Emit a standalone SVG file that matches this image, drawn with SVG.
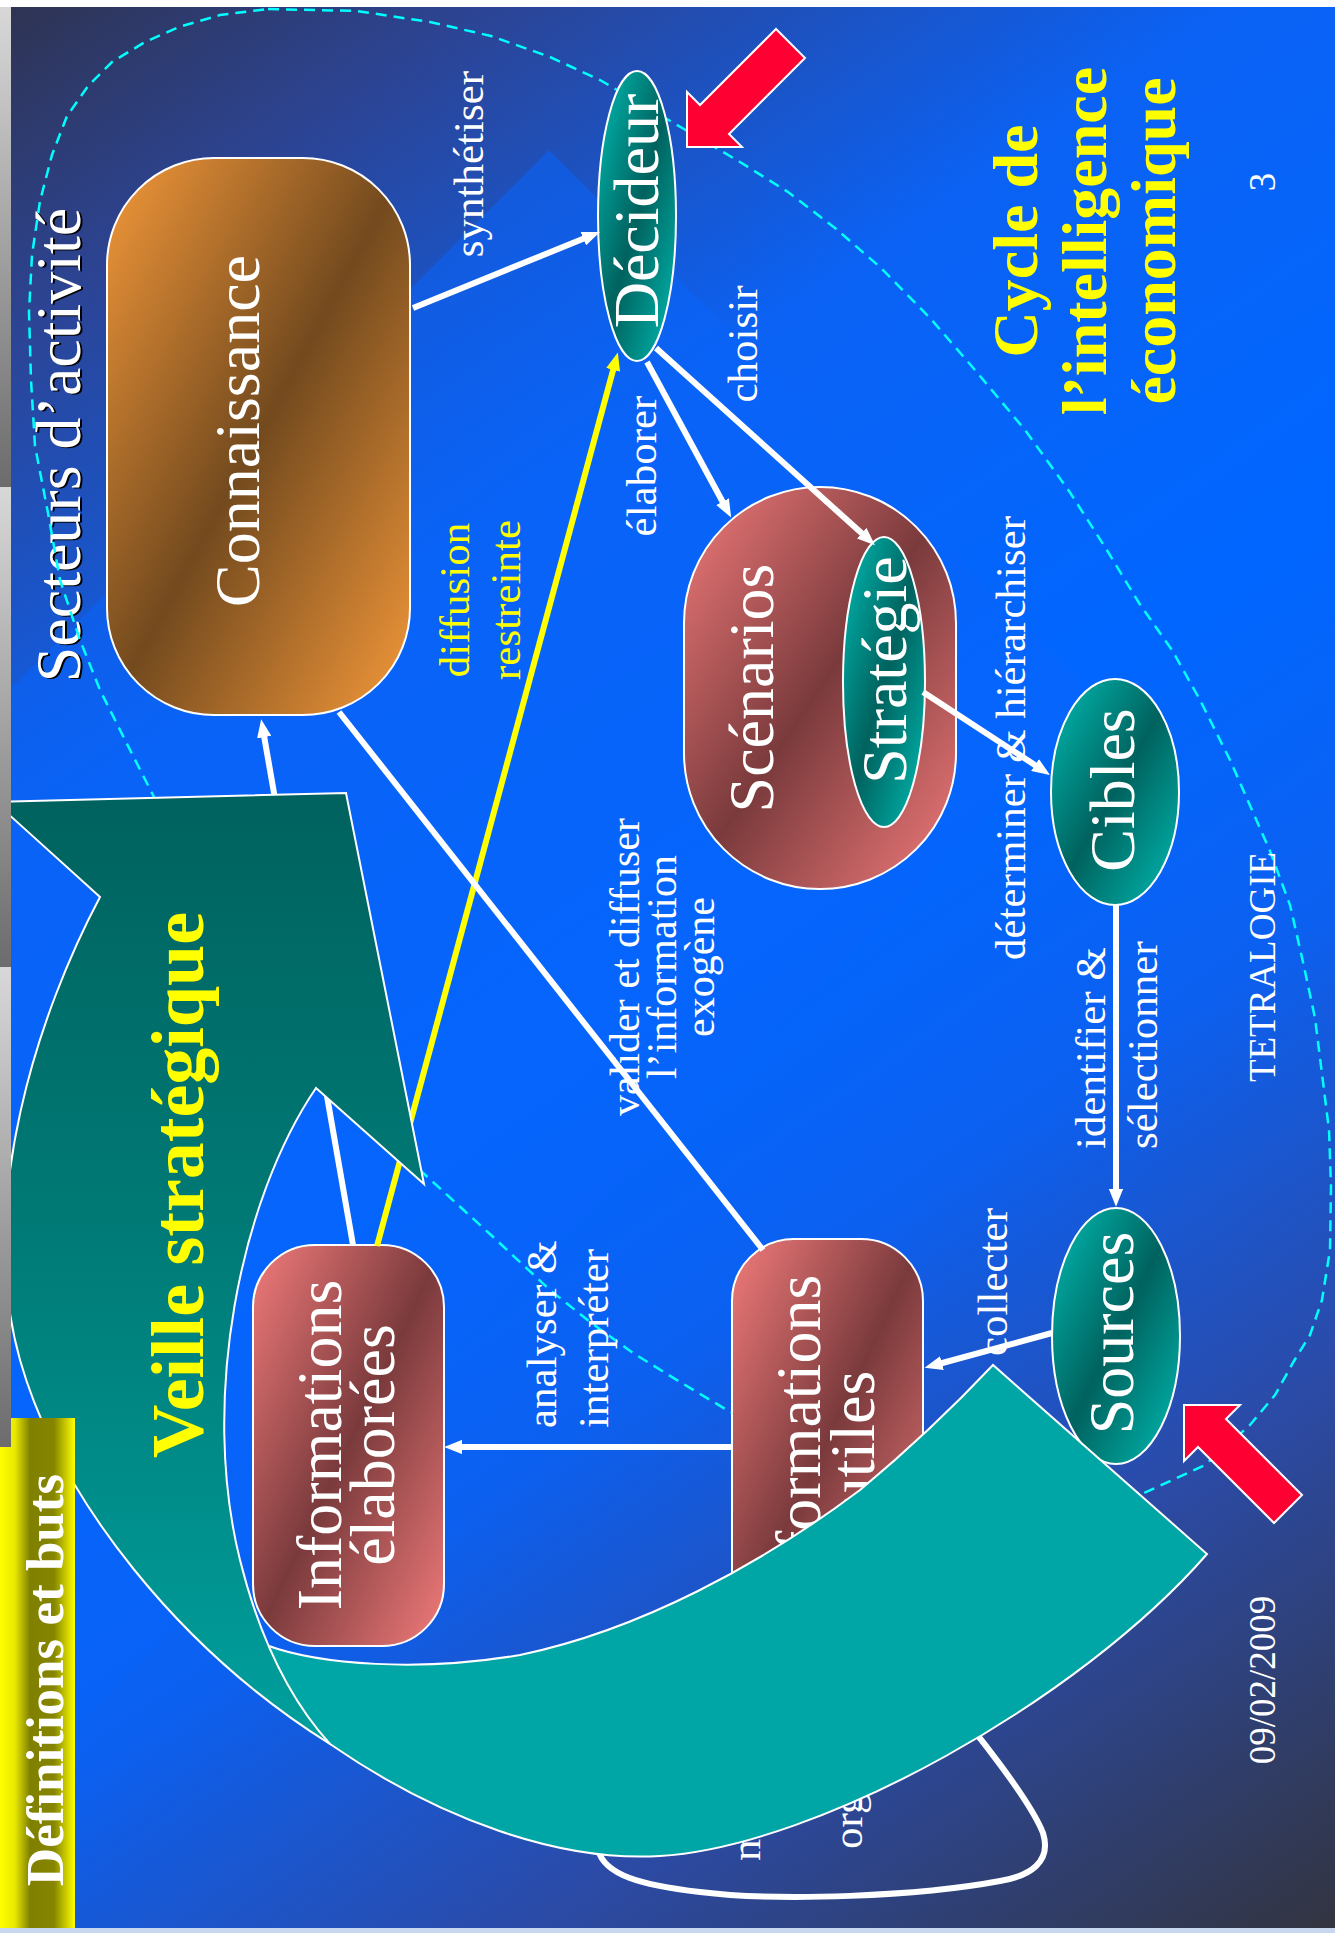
<svg xmlns="http://www.w3.org/2000/svg" width="1335" height="1933" viewBox="0 0 1335 1933">
<style>
.t{font-family:"Liberation Serif","Times New Roman",serif;fill:#fff}
.n{font-size:64px;text-anchor:middle}
.l{font-size:43px}
.m{text-anchor:middle}
.b{font-weight:bold}
.y{fill:#FFFF00}
.w{stroke:#fff;stroke-width:6;fill:none}
.so{stroke:#fff;stroke-width:2}
</style>
<defs>
<linearGradient id="bg" gradientUnits="userSpaceOnUse" x1="0" y1="0" x2="1335" y2="1933">
<stop offset="0" stop-color="#2F3350"/>
<stop offset="0.12" stop-color="#2C4494"/>
<stop offset="0.3" stop-color="#0B62F4"/>
<stop offset="0.5" stop-color="#0066FF"/>
<stop offset="0.64" stop-color="#0C60F0"/>
<stop offset="0.8" stop-color="#2B4BA8"/>
<stop offset="1" stop-color="#33343F"/>
</linearGradient>
<linearGradient id="gOr" x1="0" y1="0" x2="1" y2="1">
<stop offset="0" stop-color="#F5993A"/><stop offset="0.5" stop-color="#734A1E"/><stop offset="1" stop-color="#F5993A"/>
</linearGradient>
<linearGradient id="gPk" x1="0" y1="0" x2="1" y2="1">
<stop offset="0" stop-color="#F27B7B"/><stop offset="0.5" stop-color="#7A3A3C"/><stop offset="1" stop-color="#F27B7B"/>
</linearGradient>
<linearGradient id="gTl" x1="0" y1="0" x2="1" y2="1">
<stop offset="0" stop-color="#00BDB5"/><stop offset="0.5" stop-color="#00625E"/><stop offset="1" stop-color="#00BDB5"/>
</linearGradient>
<linearGradient id="gDk" gradientUnits="userSpaceOnUse" x1="0" y1="800" x2="0" y2="1750">
<stop offset="0" stop-color="#00625E"/><stop offset="0.45" stop-color="#007A76"/><stop offset="1" stop-color="#00A09E"/>
</linearGradient>
<linearGradient id="gYl" gradientUnits="userSpaceOnUse" x1="0" y1="0" x2="75" y2="0">
<stop offset="0" stop-color="#FFFF00"/><stop offset="0.2" stop-color="#E8E800"/><stop offset="0.4" stop-color="#808000"/><stop offset="0.72" stop-color="#858500"/><stop offset="1" stop-color="#FFFF00"/>
</linearGradient>
<linearGradient id="gGr" x1="0" y1="0" x2="0" y2="1">
<stop offset="0" stop-color="#D8D8D8"/><stop offset="1" stop-color="#6C6C6C"/>
</linearGradient>
<pattern id="pGr" patternUnits="userSpaceOnUse" x="0" y="7" width="11" height="480">
<rect width="11" height="480" fill="url(#gGr)"/>
</pattern>
<marker id="ah" viewBox="0 0 10 8" refX="4" refY="4" markerWidth="3" markerHeight="2.4" orient="auto" markerUnits="strokeWidth">
<path d="M0,0 L10,4 L0,8 z" fill="#fff"/>
</marker>
<marker id="ahY" viewBox="0 0 10 8" refX="4" refY="4" markerWidth="3" markerHeight="2.4" orient="auto" markerUnits="strokeWidth">
<path d="M0,0 L10,4 L0,8 z" fill="#FFFF00"/>
</marker>
<clipPath id="slide"><rect x="11" y="7" width="1324" height="1921"/></clipPath>
</defs>

<rect x="0" y="0" width="1335" height="1933" fill="url(#bg)"/>
<polygon points="12,687 549,150 1100,701 12,1789" fill="#0A64FA" opacity="0.55"/>

<g id="title-secteurs">
<text class="t" font-size="64" text-anchor="middle" transform="translate(82,446) rotate(-90)" style="fill:#000">Secteurs d’activité</text>
<text class="t" font-size="64" text-anchor="middle" transform="translate(80,445) rotate(-90)">Secteurs d’activité</text>
</g>

<polyline id="tetralogie-outline" fill="none" stroke="#00FFFF" stroke-width="2.5" stroke-dasharray="11 7" points="268,9 357,11 430,22 491,36 550,57 600,80 684,129 740,162 788,192 835,228 881,268 930,318 975,370 1025,430 1069,491 1105,547 1139,603 1172,650 1200,700 1230,760 1270,851 1290,905 1303,962 1315,1018 1322,1074 1329,1130 1331,1186 1330,1250 1322,1300 1310,1335 1294,1361 1275,1395 1250,1425 1205,1465 1142,1494 1060,1505 970,1500 880,1480 800,1450 727,1410 680,1382 633,1353 590,1322 550,1290 491,1235 422,1172 360,1110 300,1045 240,970 190,880 154,797 125,740 100,690 80,640 60,580 48,513 35,446 31,380 29,312 32,255 40,201 52,155 67,116 88,86 112,62 145,42 179,27 220,15 268,9"/>

<g id="nodes">
<g id="connaissance">
<rect x="107" y="158" width="303" height="557" rx="107" ry="107" fill="url(#gOr)" class="so"/>
<text class="t n" transform="translate(259,431) rotate(-90)">Connaissance</text>
</g>
<g id="decideur">
<ellipse cx="637" cy="216" rx="39" ry="145" fill="url(#gTl)" class="so"/>
<text class="t n" transform="translate(658,211) rotate(-90)">Décideur</text>
</g>
<g id="scenarios">
<rect x="684" y="487" width="272" height="402" rx="136" ry="136" fill="url(#gPk)" class="so"/>
<text class="t n" transform="translate(773,688) rotate(-90)">Scénarios</text>
</g>
<g id="strategie">
<ellipse cx="884" cy="682" rx="41" ry="145" fill="url(#gTl)" class="so"/>
<text class="t n" transform="translate(906,670) rotate(-90)">Stratégie</text>
</g>
<g id="cibles">
<ellipse cx="1115" cy="792" rx="64" ry="113" fill="url(#gTl)" class="so"/>
<text class="t n" transform="translate(1134,790) rotate(-90)">Cibles</text>
</g>
<g id="sources">
<ellipse cx="1116" cy="1336" rx="64" ry="128" fill="url(#gTl)" class="so"/>
<text class="t n" transform="translate(1133,1333) rotate(-90)">Sources</text>
</g>
<g id="info-elaborees">
<rect x="253" y="1245" width="191" height="401" rx="62" ry="62" fill="url(#gPk)" class="so"/>
<text class="t n" transform="translate(341,1445) rotate(-90)">Informations</text>
<text class="t n" transform="translate(394,1445) rotate(-90)">élaborées</text>
</g>
<g id="info-utiles">
<rect x="732" y="1239" width="191" height="401" rx="62" ry="62" fill="url(#gPk)" class="so"/>
<text class="t n" transform="translate(820,1440) rotate(-90)">Informations</text>
<text class="t n" transform="translate(874,1440) rotate(-90)">utiles</text>
</g>
</g>

<g id="connectors">
<line class="w" x1="413" y1="308" x2="590" y2="236" marker-end="url(#ah)"/>
<line class="w" x1="647" y1="362" x2="726" y2="508" marker-end="url(#ah)"/>
<line class="w" x1="656" y1="348" x2="867" y2="538" marker-end="url(#ah)"/>
<line class="w" x1="923" y1="692" x2="1041" y2="769" marker-end="url(#ah)"/>
<line class="w" x1="1116" y1="905" x2="1116" y2="1196" marker-end="url(#ah)"/>
<line class="w" x1="1052" y1="1333" x2="935" y2="1365" marker-end="url(#ah)"/>
<line class="w" x1="732" y1="1447" x2="455" y2="1447" marker-end="url(#ah)"/>
<line class="w" x1="353" y1="1245" x2="263" y2="730" marker-end="url(#ah)"/>
<line x1="377" y1="1246" x2="615" y2="363" stroke="#FFFF00" stroke-width="6" marker-end="url(#ahY)"/>
<line class="w" x1="763" y1="1250" x2="339" y2="712"/>
<path class="w" stroke-width="7" d="M940,1690 C975,1730 1030,1800 1043,1833 C1052,1862 1030,1876 1000,1881 C920,1896 780,1902 700,1892 C640,1885 605,1875 598,1850 L592,1820"/>
</g>

<g id="labels">
<text class="t l m" transform="translate(483,164) rotate(-90)">synthétiser</text>
<text class="t l m y" transform="translate(469,600) rotate(-90)">diffusion</text>
<text class="t l m y" transform="translate(520,600) rotate(-90)">restreinte</text>
<text class="t l m" transform="translate(656,466) rotate(-90)">élaborer</text>
<text class="t l m" transform="translate(757,344) rotate(-90)">choisir</text>
<text class="t l m" transform="translate(1025,738) rotate(-90)">déterminer &amp; hiérarchiser</text>
<text class="t l" transform="translate(1105,1149) rotate(-90)">identifier &amp;</text>
<text class="t l" transform="translate(1157,1149) rotate(-90)">sélectionner</text>
<text class="t m" font-size="42" transform="translate(639,967) rotate(-90)">valider et diffuser</text>
<text class="t m" font-size="42" transform="translate(676,967) rotate(-90)">l’information</text>
<text class="t m" font-size="42" transform="translate(714,967) rotate(-90)">exogène</text>
<text class="t l" transform="translate(556,1428) rotate(-90)">analyser &amp;</text>
<text class="t l" transform="translate(608,1428) rotate(-90)">interpréter</text>
<text class="t l" transform="translate(1007,1356) rotate(-90)">collecter</text>
<text class="t l" transform="translate(760,1861) rotate(-90)">mémoriser</text>
<text class="t l" transform="translate(862,1849) rotate(-90)">organiser</text>
<text class="t m" font-size="37" transform="translate(1275,967) rotate(-90)">TETRALOGIE</text>
<text class="t m" font-size="37" transform="translate(1275,182) rotate(-90)">3</text>
<text class="t m" font-size="37" transform="translate(1275,1680) rotate(-90)">09/02/2009</text>
<text class="t m b y" font-size="64" transform="translate(1037,241) rotate(-90)">Cycle de</text>
<text class="t m b y" font-size="64" transform="translate(1106,241) rotate(-90)">l’intelligence</text>
<text class="t m b y" font-size="64" transform="translate(1175,241) rotate(-90)">économique</text>
</g>

<g id="veille-arrow" clip-path="url(#slide)">
<path d="M266,1645 C320,1665 420,1672 520,1655 C640,1630 760,1565 860,1490 C920,1440 960,1400 993,1365 L1207,1554 C1080,1700 820,1846 660,1856 C560,1862 440,1820 330,1744 L250,1683 Z" fill="#00A6A6" class="so"/>
<path d="M-5,802 L346,793 L424,1184 L316,1088 C240,1200 200,1400 240,1560 C260,1640 290,1700 330,1744 C180,1650 60,1500 20,1360 C-25,1200 40,1010 100,897 Z" fill="url(#gDk)" class="so"/>
<text class="t m b y" font-size="74" transform="translate(203,1185) rotate(-90)">Veille stratégique</text>
</g>

<g id="red-arrows">
<polygon points="687,147 687,92 700,105 776,29 805,58 729,134 742,147" fill="#FF0033" class="so"/>
<polygon points="1184,1405 1240,1405 1226,1419 1302,1495 1274,1523 1198,1447 1184,1461" fill="#FF0033" class="so"/>
</g>

<g id="frame">
<rect x="0" y="1418" width="75" height="515" fill="url(#gYl)"/>
<rect x="0" y="0" width="11" height="1447" fill="url(#pGr)"/>
<rect x="0" y="0" width="1335" height="7" fill="#fff"/>
<rect x="0" y="1928" width="1335" height="5" fill="#C9D6F0"/>
<text class="t m b" font-size="53" transform="translate(63,1680) rotate(-90)">Définitions et buts</text>
</g>
</svg>
